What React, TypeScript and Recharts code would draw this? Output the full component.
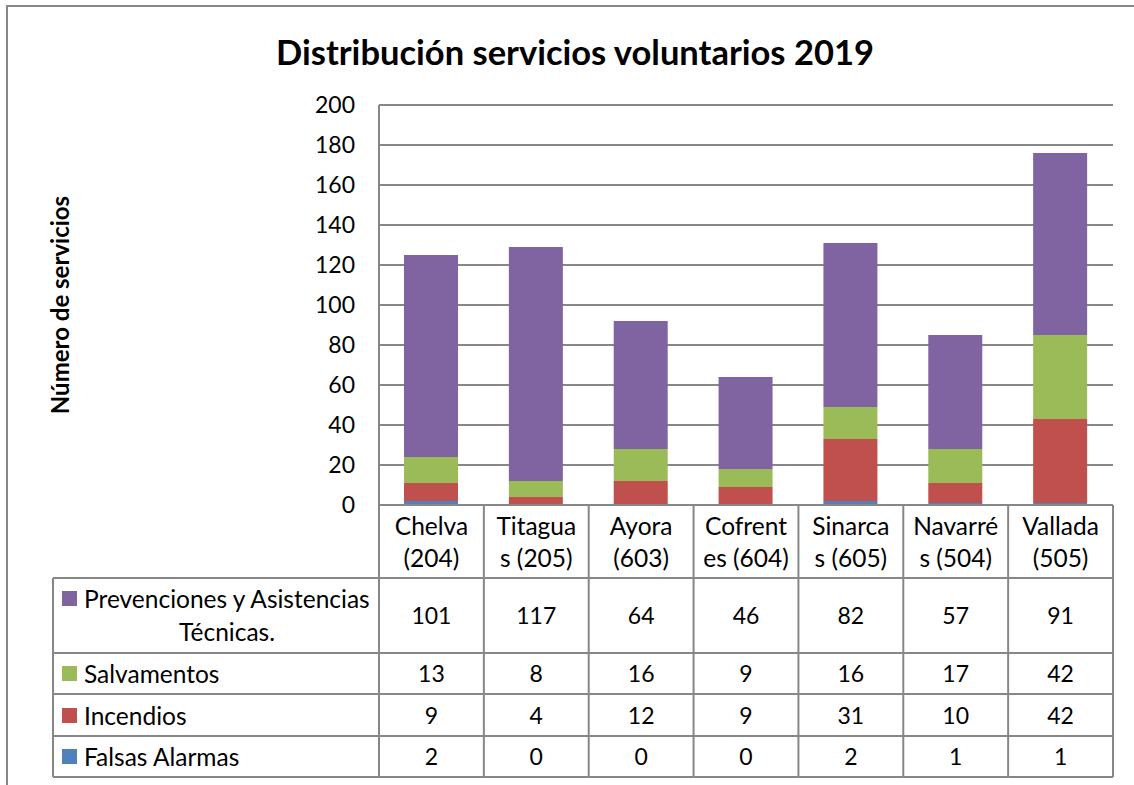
import React from "react";
import { BarChart, Bar, XAxis, YAxis, CartesianGrid } from "recharts";

const categories = [
  "Chelva (204)",
  "Titaguas (205)",
  "Ayora (603)",
  "Cofrentes (604)",
  "Sinarcas (605)",
  "Navarrés (504)",
  "Vallada (505)",
];
// how Excel wrapped the category names in the table header
const headerLines = [
  ["Chelva", "(204)"],
  ["Titagua", "s (205)"],
  ["Ayora", "(603)"],
  ["Cofrent", "es (604)"],
  ["Sinarca", "s (605)"],
  ["Navarré", "s (504)"],
  ["Vallada", "(505)"],
];
const prevenciones = [101, 117, 64, 46, 82, 57, 91];
const salvamentos = [13, 8, 16, 9, 16, 17, 42];
const incendios = [9, 4, 12, 9, 31, 10, 42];
const falsasAlarmas = [2, 0, 0, 0, 2, 1, 1];
const yTicks = [0, 20, 40, 60, 80, 100, 120, 140, 160, 180, 200];

const seriesNames = {
  prevenciones: "Prevenciones y Asistencias Técnicas.",
  salvamentos: "Salvamentos",
  incendios: "Incendios",
  falsas: "Falsas Alarmas",
};

const COLORS = {
  prevenciones: "#8064A2",
  salvamentos: "#9BBB59",
  incendios: "#C0504D",
  falsas: "#4F81BD",
};

const rows = categories.map((name, i) => ({
  name,
  prevenciones: prevenciones[i],
  salvamentos: salvamentos[i],
  incendios: incendios[i],
  falsas: falsasAlarmas[i],
}));

// table rows, top to bottom
const tableRows = [
  { key: "prevenciones", values: prevenciones },
  { key: "salvamentos", values: salvamentos },
  { key: "incendios", values: incendios },
  { key: "falsas", values: falsasAlarmas },
] as const;

const FONT = "Lato, 'Open Sans', sans-serif";
const LINE = "#878787";
const SW = 2;
const WORD_SIZE = 24.5;
const NUM_SIZE = 23;

// row edges below the axis line, and row text centres
const rowEdges = [73, 148, 189, 231, 272];
const rowCenters = [110, 168, 210, 251];

function TableColumn(props: any) {
  const { x, y, payload, index } = props;
  const half = payload && payload.offset ? payload.offset : 52;
  const left = x - half;
  const right = x + half;
  const lines = headerLines[index] || [String(payload.value)];
  return (
    <g>
      <line x1={left} x2={left} y1={y} y2={y + rowEdges[4]} stroke={LINE} strokeWidth={SW} />
      {index === categories.length - 1 && (
        <line x1={right} x2={right} y1={y} y2={y + rowEdges[4]} stroke={LINE} strokeWidth={SW} />
      )}
      {rowEdges.map((e) => (
        <line key={e} x1={left} x2={right} y1={y + e} y2={y + e} stroke={LINE} strokeWidth={SW} />
      ))}
      {lines.map((t, k) => (
        <text
          key={k}
          x={x}
          y={y + 20 + k * 32}
          textAnchor="middle"
          dominantBaseline="central"
          fontFamily={FONT}
          fontSize={WORD_SIZE}
          fill="#000"
        >
          {t}
        </text>
      ))}
      {tableRows.map((r, k) => (
        <text
          key={r.key}
          x={x}
          y={y + rowCenters[k]}
          textAnchor="middle"
          dominantBaseline="central"
          fontFamily={FONT}
          fontSize={NUM_SIZE}
          fill="#000"
        >
          {r.values[index]}
        </text>
      ))}
    </g>
  );
}

function Overlay() {
  const lx0 = 53;
  const lx1 = 379;
  const top = 505;
  return (
    <svg
      width={1134}
      height={785}
      style={{ position: "absolute", left: 0, top: 0, pointerEvents: "none" }}
    >
      {/* outer chart frame: only its top and left edges fall inside the picture */}
      <path d="M7 785 L7 6 L1134 6" fill="none" stroke={LINE} strokeWidth={2} />

      <text
        x={575}
        y={51}
        textAnchor="middle"
        dominantBaseline="central"
        fontFamily={FONT}
        fontWeight="bold"
        fontSize={34.5}
        fill="#000"
      >
        Distribución servicios voluntarios 2019
      </text>
      <text
        x={59}
        y={305}
        transform="rotate(-90 59 305)"
        textAnchor="middle"
        dominantBaseline="central"
        fontFamily={FONT}
        fontWeight="bold"
        fontSize={24}
        fill="#000"
      >
        Número de servicios
      </text>

      {/* legend column of the data table */}
      <line x1={lx0} x2={lx0} y1={top + rowEdges[0]} y2={top + rowEdges[4]} stroke={LINE} strokeWidth={SW} />
      {rowEdges.map((e) => (
        <line key={e} x1={lx0} x2={lx1} y1={top + e} y2={top + e} stroke={LINE} strokeWidth={SW} />
      ))}
      {tableRows.map((r, k) => {
        const name = seriesNames[r.key];
        const cy = k === 0 ? top + 93 : top + rowCenters[k];
        const first = k === 0 ? "Prevenciones y Asistencias" : name;
        return (
          <g key={r.key}>
            <rect x={62} y={cy - 7} width={15} height={15} fill={COLORS[r.key]} />
            <text
              x={84}
              y={cy}
              dominantBaseline="central"
              fontFamily={FONT}
              fontSize={WORD_SIZE}
              fill="#000"
            >
              {first}
            </text>
            {k === 0 && (
              <text
                x={227}
                y={cy + 33}
                textAnchor="middle"
                dominantBaseline="central"
                fontFamily={FONT}
                fontSize={WORD_SIZE}
                fill="#000"
              >
                Técnicas.
              </text>
            )}
          </g>
        );
      })}
    </svg>
  );
}

export default function App() {
  return (
    <div
      style={{
        position: "fixed",
        left: 0,
        top: 0,
        width: 1134,
        height: 785,
        background: "#fff",
        overflow: "hidden",
      }}
    >
      <BarChart
        width={1134}
        height={785}
        data={rows}
        margin={{ top: 105, right: 21, bottom: 0, left: 0 }}
        barSize={54}
      >
        <CartesianGrid vertical={false} stroke={LINE} strokeWidth={SW} />
        <XAxis
          dataKey="name"
          height={280}
          interval={0}
          tickLine={false}
          tickSize={0}
          tickMargin={0}
          axisLine={{ stroke: LINE, strokeWidth: SW }}
          tick={<TableColumn />}
        />
        <YAxis
          width={379}
          domain={[0, 200]}
          ticks={yTicks}
          interval={0}
          tickLine={false}
          tickSize={0}
          tickMargin={24}
          axisLine={{ stroke: LINE, strokeWidth: SW }}
          tick={{ fontSize: NUM_SIZE, fill: "#000", fontFamily: FONT }}
        />
        <Bar dataKey="falsas" name={seriesNames.falsas} stackId="a" fill={COLORS.falsas} isAnimationActive={false} />
        <Bar dataKey="incendios" name={seriesNames.incendios} stackId="a" fill={COLORS.incendios} isAnimationActive={false} />
        <Bar dataKey="salvamentos" name={seriesNames.salvamentos} stackId="a" fill={COLORS.salvamentos} isAnimationActive={false} />
        <Bar dataKey="prevenciones" name={seriesNames.prevenciones} stackId="a" fill={COLORS.prevenciones} isAnimationActive={false} />
      </BarChart>
      <Overlay />
    </div>
  );
}
